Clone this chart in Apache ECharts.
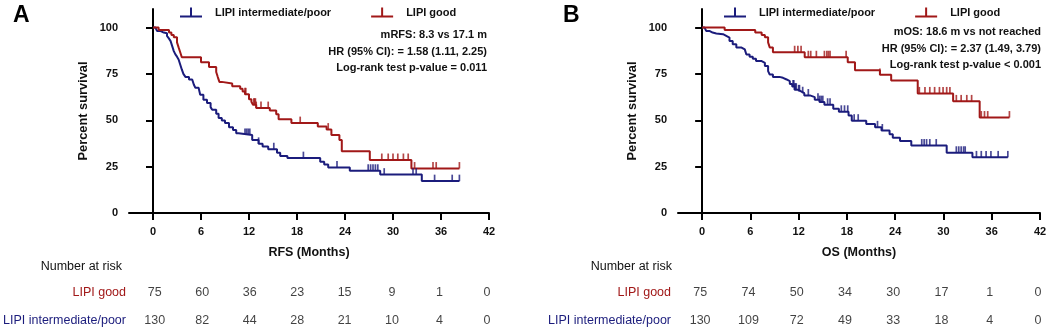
<!DOCTYPE html>
<html>
<head>
<meta charset="utf-8">
<script src="https://cdn.jsdelivr.net/npm/echarts@6/dist/echarts.min.js"></script>
<style>
    html, body { margin: 0; padding: 0; background: #fff; }
    #main { width: 1053px; height: 334px; }
</style>
</head>
<body>
<div id="main"></div>
<script>
// month ticks / survival ticks
var monthTicks = [0, 6, 12, 18, 24, 30, 36, 42];
var pctTicks = [0, 25, 50, 75, 100];
var groupNames = ['LIPI intermediate/poor', 'LIPI good'];

// A - RFS, step curves (time in months, percent surviving)
var rfsGoodT = [0, 0.7, 2.0, 2.3, 2.6, 3.0, 3.2, 3.4, 3.6, 6.0, 7.0, 7.9, 8.1, 8.3, 8.6, 9.9, 10.9, 11.2, 11.5, 12.0, 12.3, 12.5, 12.9, 14.6, 15.4, 15.7, 17.3, 20.6, 21.7, 22.3, 23.3, 23.6, 27.1, 32.3, 38.3];
var rfsGoodS = [100, 98.7, 97.3, 96, 94.7, 92, 89.3, 86.7, 84, 81.3, 78.7, 76, 73.3, 70.7, 69.8, 68.4, 67, 65.5, 64, 61.3, 60, 58.4, 56.6, 55.3, 53.2, 50.6, 48.5, 46.6, 45, 42, 39.4, 33.3, 28.6, 24, 24];
var rfsGoodCens = [11.5, 11.6, 12.6, 12.7, 12.8, 12.9, 13.5, 14.4, 18.4, 21.9, 28.6, 29.4, 30.0, 30.6, 31.3, 31.9, 32.7, 35.0, 35.4, 38.3];

var rfsPoorT = [0, 0.3, 0.5, 0.9, 1.35, 1.75, 2.0, 2.2, 2.4, 2.6, 2.8, 3.0, 3.2, 3.4, 3.6, 3.8, 4.05, 4.5, 4.9, 5.1, 5.3, 5.7, 5.9, 6.3, 6.75, 7.2, 7.4, 7.9, 8.2, 8.6, 9.0, 9.5, 10.0, 10.4, 10.7, 12.4, 13.2, 13.7, 14.4, 15.5, 15.9, 16.8, 20.9, 21.4, 21.9, 24.6, 28.4, 33.6, 38.3];
var rfsPoorS = [100, 99.2, 98.2, 97.3, 96.9, 95.5, 94, 92.7, 90, 87.3, 85.5, 84.3, 82.8, 80.1, 77.4, 75, 73.4, 72, 71, 69.3, 67.5, 66.5, 63.8, 61.1, 59.3, 57.1, 55.7, 53.5, 51.2, 49.9, 48.5, 46.3, 44.8, 43, 42.1, 39.4, 37.3, 35.8, 34.4, 32.5, 30.7, 29.6, 27.6, 26.2, 24.5, 22.8, 20.7, 17.2, 17.2];
var rfsPoorCens = [11.5, 11.7, 11.9, 12.1, 13.2, 15.1, 18.8, 23.0, 26.9, 27.2, 27.5, 27.8, 28.1, 28.9, 32.5, 32.9, 35.2, 37.4, 38.3];

// B - OS
var osGoodT = [0, 2.8, 6.6, 7.4, 7.8, 8.2, 8.4, 8.8, 12.75, 18.1, 19.0, 22.1, 23.5, 26.8, 31.2, 34.5, 38.2];
var osGoodS = [100, 98.7, 97.3, 96, 94.7, 92, 89.3, 86.7, 84, 81.3, 77, 74.5, 71.5, 64.5, 60.2, 51.5, 51.5];
var osGoodCens = [11.5, 11.9, 12.3, 13.2, 13.5, 14.2, 15.2, 15.5, 15.7, 15.9, 17.9, 22.1, 27.0, 27.7, 28.3, 28.9, 29.5, 29.95, 30.4, 30.8, 31.6, 32.2, 32.9, 33.5, 34.7, 35.1, 35.5, 38.2];

var osPoorT = [0, 0.3, 0.5, 0.9, 1.3, 1.76, 2.6, 3.0, 3.4, 3.8, 4.25, 4.9, 5.3, 5.5, 5.9, 6.3, 6.7, 7.4, 7.8, 8.2, 8.4, 8.8, 9.6, 10.05, 10.5, 10.9, 11.2, 11.5, 11.9, 12.3, 12.7, 13.4, 14.0, 14.6, 15.2, 16.3, 17.0, 18.2, 18.6, 20.4, 21.5, 22.3, 23.3, 23.7, 24.6, 26.0, 30.4, 33.6, 38.0];
var osPoorS = [100, 99.2, 98.2, 97.3, 96.8, 96.4, 95.5, 94.6, 92.8, 91, 89.2, 88.2, 87.3, 85.5, 84.3, 83.2, 81.9, 81, 79.2, 76.5, 74.7, 73.4, 72.9, 72, 71.1, 69.5, 68.2, 66.5, 65.6, 64.6, 63.4, 62.5, 61.1, 59.8, 58.4, 56.2, 54.6, 52.6, 49.8, 48, 46.2, 44.5, 42.5, 40.6, 38.8, 36.4, 32.5, 30, 30];
var osPoorCens = [11.3, 11.4, 11.5, 11.6, 11.7, 12.0, 12.1, 12.5, 13.2, 14.4, 14.6, 14.8, 15.0, 15.6, 15.9, 17.3, 17.7, 18.1, 18.9, 19.4, 21.8, 22.4, 27.3, 27.6, 27.9, 28.3, 29.1, 31.6, 31.9, 32.2, 32.5, 32.7, 34.1, 34.7, 35.3, 35.9, 36.8, 38.0];

// number at risk
var riskTimes = [0, 6, 12, 18, 24, 30, 36, 42];
var rfsRiskGood = [75, 60, 36, 23, 15, 9, 1, 0];
var rfsRiskPoor = [130, 82, 44, 28, 21, 10, 4, 0];
var osRiskGood = [75, 74, 50, 34, 30, 17, 1, 0];
var osRiskPoor = [130, 109, 72, 49, 33, 18, 4, 0];

var BLUE = '#1b1c7c';
var RED = '#a11818';
var FONT = '"Liberation Sans", Arial, sans-serif';

function zip(ts, ss) {
    var out = [];
    for (var i = 0; i < ts.length; i++) out.push([ts[i], ss[i]]);
    return out;
}
// level of the step curve at time t
function levelAt(ts, ss, t) {
    var v = ss[0];
    for (var i = 0; i < ts.length; i++) {
        if (ts[i] <= t + 1e-9) v = ss[i];
    }
    return v;
}
function censData(ts, ss, cens) {
    return cens.map(function (t) { return [t, levelAt(ts, ss, t)]; });
}
function riskData(good, poor) {
    var out = [];
    riskTimes.forEach(function (t, i) {
        out.push([t, 'LIPI good', good[i]]);
        out.push([t, 'LIPI intermediate/poor', poor[i]]);
    });
    return out;
}

var legendIcon = 'path://M0,8h22v2h-22z M10,0h2v8h-2z';

function plotXAxis(gi, name) {
    return {
        type: 'value', gridIndex: gi, min: -3, max: 42,
        name: name, nameLocation: 'middle', nameGap: 33,
        nameTextStyle: {fontFamily: FONT, fontWeight: 'bold', fontSize: 12.5, color: '#111'},
        axisLine: {show: true, lineStyle: {color: '#000', width: 2}},
        axisTick: {show: true, length: 7, customValues: monthTicks, lineStyle: {color: '#000', width: 2}},
        axisLabel: {customValues: monthTicks, margin: 13, fontFamily: FONT, fontWeight: 'bold', fontSize: 11, color: '#111'},
        splitLine: {show: false}
    };
}
function plotYAxis(gi) {
    return {
        type: 'value', gridIndex: gi, min: 0, max: 110,
        name: 'Percent survival', nameLocation: 'middle', nameGap: 39,
        nameTextStyle: {fontFamily: FONT, fontWeight: 'bold', fontSize: 12.8, color: '#111'},
        axisLine: {show: true, lineStyle: {color: '#000', width: 2}},
        axisTick: {show: true, length: 7, customValues: pctTicks, lineStyle: {color: '#000', width: 2}},
        axisLabel: {customValues: pctTicks, margin: 11, fontFamily: FONT, fontWeight: 'bold', fontSize: 11, color: '#111'},
        splitLine: {show: false}
    };
}
function riskXAxis(gi) {
    return {
        type: 'value', gridIndex: gi, min: -3, max: 42,
        axisLine: {show: false}, axisTick: {show: false}, axisLabel: {show: false}, splitLine: {show: false}
    };
}
function riskYAxis(gi) {
    return {
        type: 'category', gridIndex: gi, inverse: true,
        data: ['LIPI good', 'LIPI intermediate/poor'],
        axisLine: {show: false}, axisTick: {show: false},
        axisLabel: {
            margin: 7, fontFamily: FONT, fontSize: 12.5,
            color: function (v) { return v === 'LIPI good' ? RED : BLUE; }
        }
    };
}
function curve(name, data, color, xi) {
    return {
        name: name, type: 'line', step: 'end', xAxisIndex: xi, yAxisIndex: xi,
        data: data, showSymbol: false, symbol: 'none', silent: true,
        lineStyle: {color: color, width: 2}, itemStyle: {color: color}
    };
}
function ticks(name, data, color, xi) {
    return {
        name: name, type: 'scatter', xAxisIndex: xi, yAxisIndex: xi,
        data: data, symbol: 'rect', symbolSize: [1.7, 6.5], symbolOffset: [0, -3.2],
        itemStyle: {color: color}, silent: true, z: 3
    };
}
function riskSeries(xi, data) {
    return {
        type: 'scatter', xAxisIndex: xi, yAxisIndex: xi, data: data,
        symbolSize: 0, silent: true,
        label: {
            show: true, position: 'inside', offset: [-2, 0],
            fontFamily: FONT, fontSize: 12.5, color: '#111',
            formatter: function (p) { return String(p.value[2]); }
        }
    };
}
function legendAt(left) {
    return {
        left: left, top: 2, itemWidth: 22, itemHeight: 10, itemGap: 40,
        data: [{name: groupNames[0], icon: legendIcon}, {name: groupNames[1], icon: legendIcon}],
        textStyle: {fontFamily: FONT, fontWeight: 'bold', fontSize: 11, color: '#111', padding: [0, 0, 0, 8]},
        selectedMode: false
    };
}
function txt(text, x, y, align, font, color) {
    return {
        type: 'text', silent: true,
        style: {text: text, x: x, y: y, textAlign: align, textVerticalAlign: 'middle', verticalAlign: 'middle',
            font: font, fill: color || '#111'}
    };
}

var myChart = echarts.init(document.getElementById('main'), null, {renderer: 'canvas'});
myChart.setOption({
    animation: false,
    backgroundColor: '#fff',
    grid: [
        {left: 129, top: 9, width: 360, height: 204},
        {left: 678, top: 9, width: 362, height: 204},
        {left: 129, top: 279, width: 360, height: 63},
        {left: 678, top: 279, width: 362, height: 63}
    ],
    legend: [legendAt(175), legendAt(719)],
    xAxis: [plotXAxis(0, 'RFS (Months)'), plotXAxis(1, 'OS (Months)'), riskXAxis(2), riskXAxis(3)],
    yAxis: [plotYAxis(0), plotYAxis(1), riskYAxis(2), riskYAxis(3)],
    series: [
        curve(groupNames[0], zip(rfsPoorT, rfsPoorS), BLUE, 0),
        curve(groupNames[1], zip(rfsGoodT, rfsGoodS), RED, 0),
        ticks(groupNames[0], censData(rfsPoorT, rfsPoorS, rfsPoorCens), BLUE, 0),
        ticks(groupNames[1], censData(rfsGoodT, rfsGoodS, rfsGoodCens), RED, 0),
        curve(groupNames[0], zip(osPoorT, osPoorS), BLUE, 1),
        curve(groupNames[1], zip(osGoodT, osGoodS), RED, 1),
        ticks(groupNames[0], censData(osPoorT, osPoorS, osPoorCens), BLUE, 1),
        ticks(groupNames[1], censData(osGoodT, osGoodS, osGoodCens), RED, 1),
        riskSeries(2, riskData(rfsRiskGood, rfsRiskPoor)),
        riskSeries(3, riskData(osRiskGood, osRiskPoor))
    ],
    graphic: [
        txt('A', 13, 16, 'left', 'bold 23px ' + FONT, '#000'),
        txt('B', 563, 16, 'left', 'bold 23px ' + FONT, '#000'),
        txt('mRFS: 8.3 vs 17.1 m', 487, 35, 'right', 'bold 11px ' + FONT),
        txt('HR (95% CI): = 1.58 (1.11, 2.25)', 487, 51.5, 'right', 'bold 11px ' + FONT),
        txt('Log-rank test p-value = 0.011', 487, 67.5, 'right', 'bold 11px ' + FONT),
        txt('mOS: 18.6 m vs not reached', 1041, 32, 'right', 'bold 11px ' + FONT),
        txt('HR (95% CI): = 2.37 (1.49, 3.79)', 1041, 48.5, 'right', 'bold 11px ' + FONT),
        txt('Log-rank test p-value < 0.001', 1041, 64.5, 'right', 'bold 11px ' + FONT),
        txt('Number at risk', 122, 267, 'right', '12.5px ' + FONT),
        txt('Number at risk', 672, 267, 'right', '12.5px ' + FONT)
    ]
});
</script>
</body>
</html>
